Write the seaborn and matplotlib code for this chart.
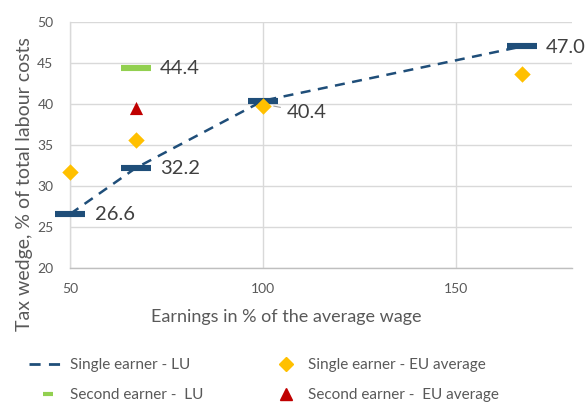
import matplotlib
matplotlib.use("Agg")
import matplotlib.pyplot as plt
import seaborn as sns
import pandas as pd
from matplotlib.lines import Line2D

earnings = [50, 67, 100, 167]
single_lu = [26.6, 32.2, 40.4, 47.0]
single_eu = [31.7, 35.6, 39.7, 43.6]
second_x = [67]
second_lu = [44.4]
second_eu = [39.5]

BLUE = "#1F4E79"
GOLD = "#FFC000"
GREEN = "#92D050"
RED = "#C00000"
GREY = "#595959"

sns.set_theme(style="whitegrid")
plt.rcParams["font.family"] = ["Lato", "DejaVu Sans"]

fig = plt.figure(figsize=(5.85, 4.05), dpi=100)
ax = fig.add_axes([0.12, 0.338, 0.858, 0.608])

df1 = pd.DataFrame({"x": earnings, "lu": single_lu, "eu": single_eu})
df2 = pd.DataFrame({"x": second_x, "lu": second_lu, "eu": second_eu})

sns.lineplot(data=df1, x="x", y="lu", ax=ax, color=BLUE, linestyle=(0, (4, 3)), lw=1.8, zorder=3)
sns.scatterplot(data=df1, x="x", y="lu", ax=ax, marker="_", s=470, linewidth=4.4, color=BLUE, zorder=4, clip_on=False)
sns.scatterplot(data=df1, x="x", y="eu", ax=ax, marker="D", s=70, color=GOLD, edgecolor=GOLD, linewidth=0, zorder=5, clip_on=False)
sns.scatterplot(data=df2, x="x", y="lu", ax=ax, marker="_", s=470, linewidth=4.4, color=GREEN, zorder=4, clip_on=False)
sns.scatterplot(data=df2, x="x", y="eu", ax=ax, marker="^", s=90, color=RED, edgecolor=RED, linewidth=0, zorder=5, clip_on=False)

lab_kw = dict(fontsize=14.5, color="#404040", va="center", ha="left")
for xv, yv in zip(earnings, single_lu):
    if xv == 100:
        ax.annotate(f"{yv:.1f}", xy=(xv + 2, yv - 0.6), xytext=(xv + 6, yv - 1.4),
                    arrowprops=dict(arrowstyle="-", color="#A0A0A0", lw=0.8), **lab_kw)
    else:
        ax.text(xv + 6.3, yv - 0.1, f"{yv:.1f}", **lab_kw)
for xv, yv in zip(second_x, second_lu):
    ax.text(xv + 6.3, yv - 0.1, f"{yv:.1f}", **lab_kw)

ax.set_xlim(50, 180)
ax.set_ylim(20, 50)
ax.set_xticks([50, 100, 150])
ax.set_yticks([20, 25, 30, 35, 40, 45, 50])
ax.tick_params(axis="y", labelsize=10, colors=GREY, length=0, pad=12)
ax.tick_params(axis="x", labelsize=10, colors=GREY, length=0, pad=11)
ax.grid(True, color="#D9D9D9", lw=1)
for s in ["top", "right"]:
    ax.spines[s].set_visible(False)
ax.spines["left"].set_color("#D9D9D9")
ax.spines["bottom"].set_color("#BFBFBF")
for s in ["left", "bottom"]:
    ax.spines[s].set_linewidth(1)
ax.set_xlabel("Earnings in % of the average wage", fontsize=13, color=GREY)
ax.set_ylabel("Tax wedge, % of total labour costs", fontsize=14, color=GREY)
ax.xaxis.set_label_coords(0.43, -0.167)
ax.yaxis.set_label_coords(-0.074, 0.342)

handles = [
    Line2D([], [], color=BLUE, linestyle=(0, (4, 3)), lw=2),
    Line2D([], [], color=GOLD, marker="D", linestyle="none", markersize=7),
    Line2D([], [], color=GREEN, marker="_", linestyle="none", markersize=7, mew=3),
    Line2D([], [], color=RED, marker="^", linestyle="none", markersize=8),
]
labels = ["Single earner - LU", "Single earner - EU average",
          "Second earner -  LU", "Second earner -  EU average"]
order = [0, 2, 1, 3]
fig.legend([handles[i] for i in order], [labels[i] for i in order], ncol=2,
           loc="upper left", bbox_to_anchor=(0.05, 0.115), frameon=False,
           borderpad=0, borderaxespad=0,
           fontsize=11, labelcolor=GREY, columnspacing=4.1, handlelength=2.5,
           handletextpad=0.2, labelspacing=1.05)

fig.savefig("out.png", dpi=100)
